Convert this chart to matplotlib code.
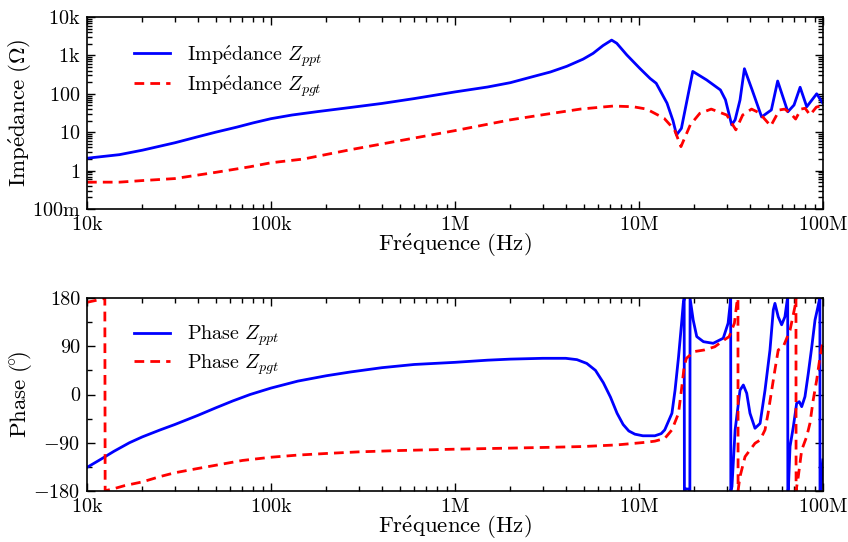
import matplotlib
matplotlib.use("Agg")
import matplotlib.pyplot as plt
from matplotlib.ticker import FixedLocator, FixedFormatter, LogLocator, MultipleLocator, NullFormatter

plt.rcParams["mathtext.fontset"] = "cm"
plt.rcParams["font.family"] = ["cmr10", "DejaVu Serif"]
plt.rcParams["axes.unicode_minus"] = False

# ---- measured impedance magnitude (ohm) vs frequency (Hz) ----
f_zppt = [1e4, 1.5e4, 2e4, 3e4, 4e4, 5e4, 6.5e4, 8e4, 1e5, 1.3e5, 1.8e5, 2.7e5,
          4e5, 6e5, 1e6, 1.5e6, 2e6, 2.65e6, 3.3e6, 4.05e6, 4.97e6, 5.63e6,
          6.37e6, 7.1e6, 7.57e6, 8.58e6, 10.1e6, 11.5e6, 12.4e6, 14.2e6,
          15.3e6, 16.0e6, 17.0e6, 19.6e6, 23.3e6, 27.7e6, 29.5e6, 31.9e6,
          33.3e6, 35.4e6, 37.4e6, 41.2e6, 46.4e6, 52.4e6, 56.7e6, 64.4e6,
          69.6e6, 75.1e6, 81.6e6, 92.4e6, 100e6]
z_ppt = [2.1, 2.6, 3.4, 5.3, 7.6, 10, 13.5, 17.5, 22.5, 28, 34.5, 44,
         56, 75, 112, 150, 195, 280, 370, 520, 800, 1130,
         1800, 2500, 2070, 1030, 460, 250, 188, 57,
         20, 8.5, 12.6, 383, 230, 126, 70, 15.5,
         21, 69, 450, 126, 25, 38, 215, 34,
         51, 148, 46, 100, 56]

f_zpgt = [1e4, 1.5e4, 2e4, 3e4, 5e4, 7.7e4, 1e5, 1.5e5, 2.7e5, 5e5, 1e6, 2e6,
          3.15e6, 4.8e6, 7.25e6, 9.3e6, 11e6, 13.7e6, 15.6e6, 16.9e6, 19e6,
          21.4e6, 24.7e6, 30e6, 33.6e6, 36.6e6, 40.9e6, 45e6, 52e6, 58e6, 62e6,
          67e6, 71e6, 76e6, 80e6, 85e6, 92e6, 100e6]
z_pgt = [0.5, 0.5, 0.55, 0.62, 0.9, 1.26, 1.6, 2.0, 3.5, 6, 11, 21,
         29.5, 40, 48, 46, 40, 23, 11.5, 4.2, 15.5,
         31, 40, 28, 11.5, 28, 40, 32, 14.5, 38, 40,
         30, 22, 40, 42, 28, 45, 50]

# ---- measured phase (degrees, wrapped to +-180) ----
f_pppt = [1e4, 1.2e4, 1.4e4, 1.7e4, 2e4, 2.5e4, 3e4, 4e4, 5e4, 6.2e4, 7.7e4,
          1e5, 1.4e5, 2e5, 2.7e5, 4e5, 6e5, 1e6, 1.5e6, 2e6, 3e6, 4e6,
          4.6e6, 5.2e6, 5.8e6, 6.4e6, 7.0e6, 7.6e6, 8.2e6, 8.8e6, 9.5e6,
          10.5e6, 12.2e6, 13.2e6, 13.8e6, 15.1e6, 15.7e6, 16.4e6, 17.1e6,
          17.4e6, 17.6e6, 17.65e6, 18.1e6, 18.8e6, 18.9e6, 18.95e6, 19.7e6,
          20.6e6, 22.4e6, 25.3e6, 28.7e6, 30.5e6, 31.45e6, 31.5e6, 31.55e6,
          32e6, 33.3e6, 35.4e6, 36.9e6, 38.5e6, 40.1e6, 42.7e6, 45.5e6,
          48.4e6, 51.5e6, 53.7e6, 54.8e6, 57.1e6, 59.6e6, 62.1e6, 63.9e6,
          64.3e6, 64.4e6, 64.8e6, 66.2e6, 69e6, 71.9e6, 74.3e6, 76.6e6,
          79.8e6, 83.2e6, 86.9e6, 90.5e6, 93.1e6, 95.5e6, 96.2e6, 96.3e6,
          97.5e6, 100e6]
p_ppt = [-136, -120, -106, -90, -79, -66, -56, -39, -25, -12, 0,
         12, 25, 35, 42, 50, 56, 60, 64, 66, 67.5, 67.5,
         65, 58, 45, 22, -5, -35, -56, -68, -74,
         -77, -77, -73, -66, -35, 8, 70, 139,
         170, 179.5, -179.5, -176, -177, -179.5, 179.5, 139,
         108, 98.5, 95.5, 105, 133, 176, 179.5, -179.5,
         -172, -66, 8, 17.7, 2.3, -35, -63, -54,
         8, 83, 158, 170, 145, 130, 145, 176,
         179.5, -179.5, -178, -97, -60, -16.5, -13.4, -22.7,
         -4, 39.5, 89, 139, 158, 176, 179.5, -179.5,
         -175, -122]

f_ppgt = [1e4, 1.1e4, 1.2e4, 1.25e4, 1.255e4, 1.39e4, 1.6e4, 2e4, 2.5e4, 3e4,
          4e4, 5e4, 7e4, 1e5, 1.4e5, 2e5, 3e5, 5e5, 1e6, 2e6, 3.3e6, 5e6,
          7.6e6, 9.5e6, 11e6, 12.2e6, 13.8e6, 15.1e6, 16.4e6, 17.1e6, 17.6e6,
          18.1e6, 19.9e6, 22.6e6, 25.8e6, 29.1e6, 30.9e6, 33e6, 34e6, 34.5e6,
          34.55e6, 35e6, 35.4e6, 37.7e6, 42.7e6, 45.5e6, 48.4e6, 50.3e6,
          52.3e6, 54.8e6, 57.1e6, 60.8e6, 66.2e6, 70.4e6, 71.3e6, 71.4e6,
          73.4e6, 76.6e6, 81.5e6, 84.9e6, 88.5e6, 92.4e6, 96.4e6, 100e6]
p_pgt = [172, 175, 178, 179.5, -179.5, -176, -170, -163, -153, -146,
         -138, -132, -123, -117, -113, -110, -107, -104.5, -102, -100, -98.5, -97,
         -94, -91, -89, -87, -82, -66, -35, 15, 52,
         67.5, 80, 83, 89, 102, 108, 133, 170, 179.5,
         -179.5, -165, -153, -116, -91, -85, -66, -35,
         2, 46, 83, 89, 120, 164, 179.5, -179.5,
         -153, -103.5, -78.7, -54, -10, 27, 70.5, 100]

# ---- axis ticks ----
freq_ticks = [1e4, 1e5, 1e6, 1e7, 1e8]
freq_labels = ["10k", "100k", "1M", "10M", "100M"]
imp_ticks = [0.1, 1, 10, 100, 1e3, 1e4]
imp_labels = ["100m", "1", "10", "100", "1k", "10k"]
phase_ticks = [-180, -90, 0, 90, 180]
phase_labels = ["$-180$", "$-90$", "0", "90", "180"]

BLUE = "#0000ff"
RED = "#ff0000"
LW = 2.0
TICK_FS = 14.5
LABEL_FS = 16.5
LEGEND_FS = 14.5


def mrm(s):
    return r"$\mathrm{" + s + "}$" if not s.startswith("$") else s


def style_axis(ax):
    ax.set_xscale("log")
    ax.set_xlim(1e4, 1e8)
    ax.xaxis.set_major_locator(FixedLocator(freq_ticks))
    ax.xaxis.set_major_formatter(FixedFormatter([mrm(s) for s in freq_labels]))
    ax.xaxis.set_minor_locator(LogLocator(base=10, subs=range(2, 10), numticks=20))
    ax.xaxis.set_minor_formatter(NullFormatter())
    ax.tick_params(which="both", direction="in", top=True, right=True,
                   labelsize=TICK_FS, width=1.0)
    ax.tick_params(which="major", length=6, pad=5)
    ax.tick_params(which="minor", length=3.5)
    for sp in ax.spines.values():
        sp.set_linewidth(1.2)
    ax.set_xlabel(r"$\mathrm{Fr\acute{e}quence\ (Hz)}$", fontsize=LABEL_FS, labelpad=-1.2)
    ax.yaxis.set_label_coords(-0.072, 0.5)


fig = plt.figure(figsize=(8.48, 5.42), dpi=100)
ax1 = fig.add_axes([87 / 848, 1 - 209 / 542, 736 / 848, 192 / 542])
ax2 = fig.add_axes([87 / 848, 1 - 491 / 542, 736 / 848, 193 / 542])

# impedance magnitude
ax1.plot(f_zppt, z_ppt, color=BLUE, lw=LW, label=r"$\mathrm{Imp\acute{e}dance}\ Z_{ppt}$")
ax1.plot(f_zpgt, z_pgt, color=RED, lw=LW, dashes=(3.5, 2.2),
         label=r"$\mathrm{Imp\acute{e}dance}\ Z_{pgt}$")
style_axis(ax1)
ax1.set_yscale("log")
ax1.set_ylim(0.1, 1e4)
ax1.yaxis.set_major_locator(FixedLocator(imp_ticks))
ax1.yaxis.set_major_formatter(FixedFormatter([mrm(s) for s in imp_labels]))
ax1.yaxis.set_minor_locator(LogLocator(base=10, subs=range(2, 10), numticks=20))
ax1.yaxis.set_minor_formatter(NullFormatter())
ax1.set_ylabel(r"$\mathrm{Imp\acute{e}dance}\ (\Omega)$", fontsize=LABEL_FS)

# phase
ax2.plot(f_pppt, p_ppt, color=BLUE, lw=LW, label=r"$\mathrm{Phase}\ Z_{ppt}$")
ax2.plot(f_ppgt, p_pgt, color=RED, lw=LW, dashes=(3.5, 2.2),
         label=r"$\mathrm{Phase}\ Z_{pgt}$")
style_axis(ax2)
ax2.set_ylim(-180, 180)
ax2.yaxis.set_major_locator(FixedLocator(phase_ticks))
ax2.yaxis.set_major_formatter(FixedFormatter(phase_labels))
ax2.yaxis.set_minor_locator(MultipleLocator(45))
ax2.set_ylabel(r"$\mathrm{Phase}\ (\!^{\circ}\!)$", fontsize=LABEL_FS)

for ax in (ax1, ax2):
    ax.legend(loc="upper left", bbox_to_anchor=(0.045, 0.94), frameon=False,
              fontsize=LEGEND_FS, handlelength=1.8, handletextpad=0.8,
              labelspacing=0.2, borderaxespad=0.3)

fig.savefig("out.png", dpi=100)
